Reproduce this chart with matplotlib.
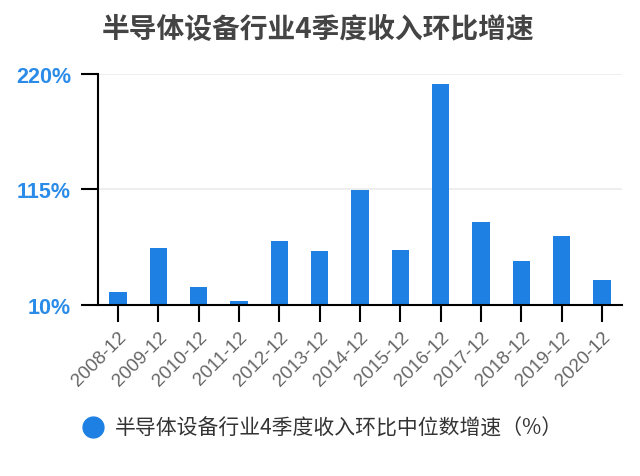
import matplotlib
matplotlib.use("Agg")
import matplotlib.pyplot as plt
from matplotlib.lines import Line2D

plt.rcParams['font.family'] = ['Noto Sans CJK SC', 'DejaVu Sans']

# data
periods = ['2008-12', '2009-12', '2010-12', '2011-12', '2012-12', '2013-12', '2014-12',
           '2015-12', '2016-12', '2017-12', '2018-12', '2019-12', '2020-12']
growth = [21.5, 61.6, 26.3, 13.6, 67.9, 58.6, 114.3, 59.8, 210.3, 85.7, 50.4, 72.7, 32.9]
yticks = [10, 115, 220]

title = '半导体设备行业4季度收入环比增速'
series_name = '半导体设备行业4季度收入环比中位数增速（%）'

bar_color = '#1e80e3'
label_blue = '#2b8be8'

fig = plt.figure(figsize=(6.4, 4.77), dpi=100)
ax = fig.add_axes([98 / 640, 1 - 306 / 477, 524 / 640, 231.3 / 477])

x = range(len(periods))
ax.bar(x, growth, width=0.43, bottom=0, color=bar_color, zorder=3)

ax.set_xlim(-0.5, len(periods) - 0.5)
ax.set_ylim(10, 220)
ax.set_yticks(yticks)
ax.set_yticklabels(['%d%%' % v for v in yticks], fontfamily='Liberation Sans',
                   fontweight='bold', fontsize=15.5, color=label_blue)
ax.set_xticks(list(x))
ax.set_xticklabels(periods, rotation=45, ha='right', rotation_mode='anchor',
                   fontfamily='Liberation Sans', fontsize=13.5, color='#666666')

ax.tick_params(axis='both', length=12.5, width=1.5, color='black')
ax.tick_params(axis='y', pad=7)
ax.tick_params(axis='x', pad=4)

for s in ['top', 'right']:
    ax.spines[s].set_visible(False)
for s in ['left', 'bottom']:
    ax.spines[s].set_linewidth(1.5)
    ax.spines[s].set_zorder(4)

ax.grid(axis='y', color='#ededed', linewidth=1.3, zorder=0)
ax.set_axisbelow(True)

fig.text(318 / 640, 1 - 30 / 477, title, ha='center', va='center',
         fontsize=20, fontweight='bold', color='#444444')

handle = Line2D([], [], marker='o', linestyle='none', markersize=15,
                markerfacecolor=bar_color, markeredgecolor=bar_color)
fig.legend([handle], [series_name], loc='center left',
           bbox_to_anchor=(70 / 640, 1 - 429 / 477), frameon=False,
           fontsize=15, labelcolor='#333333', handletextpad=0.45,
           borderpad=0, handlelength=1.2,
           prop={'size': 15, 'weight': 'medium'})

fig.savefig('out.png', dpi=100)
